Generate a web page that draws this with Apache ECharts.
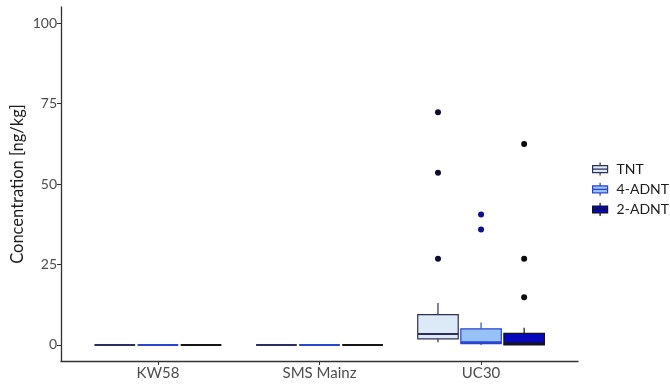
<!DOCTYPE html>
<html>
<head>
<meta charset="utf-8">
<script src="https://cdn.jsdelivr.net/npm/echarts@6/dist/echarts.min.js"></script>
<style>
  html, body { margin: 0; padding: 0; background: #ffffff; }
  #chart { width: 670px; height: 387px; }
</style>
</head>
<body>
<div id="chart"></div>
<script>
// Sampling sites along the x axis
const sites = ['KW58', 'SMS Mainz', 'UC30'];
const compounds = ['TNT', '4-ADNT', '2-ADNT'];

// Five-number summaries per site: [min, Q1, median, Q3, max] in ng/kg
const tntStats   = [[0, 0, 0, 0, 0], [0, 0, 0, 0, 0], [0.8, 1.9, 3.4, 9.4, 13.0]];
const adnt4Stats = [[0, 0, 0, 0, 0], [0, 0, 0, 0, 0], [0, 0.4, 0.8, 5.0, 7.0]];
const adnt2Stats = [[0, 0, 0, 0, 0], [0, 0, 0, 0, 0], [0, 0, 0.4, 3.6, 5.3]];

// Outlying measurements: [site index, value]
const tntOutliers   = [[2, 72.3], [2, 53.5], [2, 26.8]];
const adnt4Outliers = [[2, 40.5], [2, 35.9]];
const adnt2Outliers = [[2, 62.4], [2, 26.8], [2, 14.8]];

// Axis tick labels
const yTicks = [0, 25, 50, 75, 100];
const xTicks = [1, 2, 3];

// Dodged layout of the three compounds within one site (x data units)
const GROUP_W = 0.8;
const DODGE = GROUP_W / 3;
const BOX_W = DODGE * 0.94;

const palette = [
  { fill: '#dceaf7', stroke: '#2e2e5e', point: '#0d0d2e' },
  { fill: '#97c1f7', stroke: '#2b44d0', point: '#10108a' },
  { fill: '#0707bd', stroke: '#151515', point: '#0a0a0a' }
];

const statsBySeries = [tntStats, adnt4Stats, adnt2Stats];
const outliersBySeries = [tntOutliers, adnt4Outliers, adnt2Outliers];

function boxRenderer(slot) {
  const c = palette[slot];
  return function (params, api) {
    const x = api.value(0) + (slot - 1) * DODGE;
    const left = api.coord([x - BOX_W / 2, 0])[0];
    const right = api.coord([x + BOX_W / 2, 0])[0];
    const cx = api.coord([x, 0])[0];
    const yMin = api.coord([x, api.value(1)])[1];
    const yQ1 = api.coord([x, api.value(2)])[1];
    const yMed = api.coord([x, api.value(3)])[1];
    const yQ3 = api.coord([x, api.value(4)])[1];
    const yMax = api.coord([x, api.value(5)])[1];
    const lineStyle = { stroke: c.stroke, lineWidth: 1.2 };
    return {
      type: 'group',
      children: [
        { type: 'line', shape: { x1: cx, y1: yMin, x2: cx, y2: yQ1 }, style: lineStyle },
        { type: 'line', shape: { x1: cx, y1: yQ3, x2: cx, y2: yMax }, style: lineStyle },
        { type: 'rect', shape: { x: left, y: yQ3, width: right - left, height: yQ1 - yQ3 },
          style: { fill: c.fill, stroke: c.stroke, lineWidth: 1.2 } },
        { type: 'line', shape: { x1: left, y1: yMed, x2: right, y2: yMed },
          style: { stroke: c.stroke, lineWidth: 2 } }
      ]
    };
  };
}

const boxSeries = compounds.map((name, s) => ({
  name: name,
  type: 'custom',
  renderItem: boxRenderer(s),
  itemStyle: { color: palette[s].fill, borderColor: palette[s].stroke },
  encode: { x: 0, y: [1, 2, 3, 4, 5] },
  data: statsBySeries[s].map((st, i) => [i + 1].concat(st)),
  z: 2
}));

const outlierSeries = compounds.map((name, s) => ({
  name: name,
  type: 'scatter',
  symbolSize: 6,
  itemStyle: { color: palette[s].point, opacity: 1 },
  data: outliersBySeries[s].map(o => [o[0] + 1 + (s - 1) * DODGE, o[1]]),
  z: 3
}));

const legendIcon = 'path://M0,3 L15,3 L15,10 L0,10 Z M0,6.5 L15,6.5 M7.5,0 L7.5,3 M7.5,10 L7.5,13';

const chart = echarts.init(document.getElementById('chart'), null, { renderer: 'canvas' });
chart.setOption({
  animation: false,
  backgroundColor: '#ffffff',
  textStyle: { fontFamily: 'Lato' },
  grid: { left: 61, right: 92, top: 7, bottom: 26, containLabel: false, outerBoundsMode: 'none' },
  legend: {
    orient: 'vertical',
    left: 587,
    top: 157,
    itemWidth: 15,
    itemHeight: 13,
    itemGap: 6,
    textStyle: { fontSize: 14, color: '#1a1a1a', fontFamily: 'Lato', padding: [0, 0, 0, 4] },
    data: compounds.map((name, s) => ({
      name: name,
      icon: legendIcon,
      itemStyle: { color: palette[s].fill, borderColor: palette[s].stroke, borderWidth: 1.2 }
    }))
  },
  xAxis: {
    type: 'value',
    min: 0.4,
    max: 3.6,
    splitLine: { show: false },
    axisLine: { show: true, onZero: false, lineStyle: { color: '#333333', width: 1.3 } },
    axisTick: { show: true, customValues: xTicks, length: 4, lineStyle: { color: '#333333' } },
    axisLabel: {
      customValues: xTicks,
      formatter: v => sites[Math.round(v) - 1],
      fontSize: 15,
      color: '#4d4d4d',
      margin: 5
    }
  },
  yAxis: {
    type: 'value',
    min: -5,
    max: 105,
    name: 'Concentration [ng/kg]',
    nameLocation: 'middle',
    nameGap: 35,
    nameMoveOverlap: false,
    nameTextStyle: { fontSize: 16.5, color: '#1a1a1a' },
    splitLine: { show: false },
    axisLine: { show: true, lineStyle: { color: '#333333', width: 1.3 } },
    axisTick: { show: true, customValues: yTicks, length: 4, lineStyle: { color: '#333333' } },
    axisLabel: { customValues: yTicks, fontSize: 14, color: '#4d4d4d', margin: 4 }
  },
  series: boxSeries.concat(outlierSeries)
});
</script>
</body>
</html>
